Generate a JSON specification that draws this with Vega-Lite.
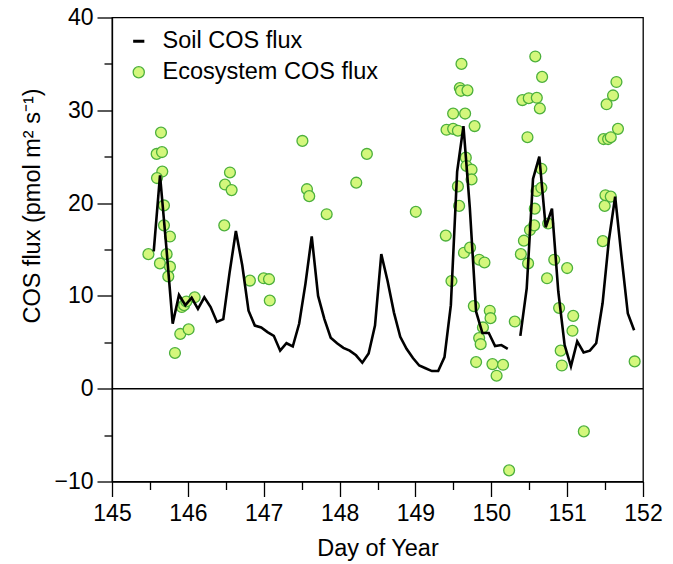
{
  "$schema": "https://vega.github.io/schema/vega-lite/v6.json",
  "width": 531,
  "height": 464,
  "autosize": "none",
  "padding": {"left": 112, "top": 17.5, "right": 30, "bottom": 82.5},
  "background": "white",
  "config": {
    "view": {"stroke": "black", "strokeWidth": 1.3},
    "font": "Liberation Sans",
    "axis": {
      "grid": false,
      "domainColor": "black",
      "domainWidth": 1.3,
      "tickColor": "black",
      "tickWidth": 1.3,
      "labelColor": "black",
      "labelFont": "Liberation Sans",
      "labelFontSize": 23,
      "titleFont": "Liberation Sans",
      "titleFontSize": 23.5,
      "titleFontWeight": "normal",
      "titleColor": "black",
      "labelFlush": false,
      "labelOverlap": false
    },
    "legend": {
      "title": null,
      "orient": "none",
      "padding": 0,
      "labelFont": "Liberation Sans",
      "labelFontSize": 23.5,
      "labelColor": "black",
      "labelLimit": 0,
      "labelOffset": 12,
      "symbolSize": 125
    }
  },
  "datasets": {
    "soil": [
      {"day": 145.55, "flux": 14.8, "seg": 1, "series": "Soil COS flux"},
      {"day": 145.633, "flux": 23.0, "seg": 1, "series": "Soil COS flux"},
      {"day": 145.717, "flux": 15.2, "seg": 1, "series": "Soil COS flux"},
      {"day": 145.8, "flux": 7.0, "seg": 1, "series": "Soil COS flux"},
      {"day": 145.883, "flux": 10.1, "seg": 1, "series": "Soil COS flux"},
      {"day": 145.967, "flux": 9.0, "seg": 1, "series": "Soil COS flux"},
      {"day": 146.05, "flux": 9.8, "seg": 1, "series": "Soil COS flux"},
      {"day": 146.133, "flux": 8.6, "seg": 1, "series": "Soil COS flux"},
      {"day": 146.217, "flux": 9.85, "seg": 1, "series": "Soil COS flux"},
      {"day": 146.3, "flux": 8.8, "seg": 1, "series": "Soil COS flux"},
      {"day": 146.383, "flux": 7.2, "seg": 1, "series": "Soil COS flux"},
      {"day": 146.467, "flux": 7.5, "seg": 1, "series": "Soil COS flux"},
      {"day": 146.55, "flux": 12.5, "seg": 1, "series": "Soil COS flux"},
      {"day": 146.633, "flux": 17.0, "seg": 1, "series": "Soil COS flux"},
      {"day": 146.717, "flux": 13.3, "seg": 1, "series": "Soil COS flux"},
      {"day": 146.8, "flux": 8.4, "seg": 1, "series": "Soil COS flux"},
      {"day": 146.883, "flux": 6.8, "seg": 1, "series": "Soil COS flux"},
      {"day": 146.967, "flux": 6.6, "seg": 1, "series": "Soil COS flux"},
      {"day": 147.05, "flux": 6.1, "seg": 1, "series": "Soil COS flux"},
      {"day": 147.133, "flux": 5.7, "seg": 1, "series": "Soil COS flux"},
      {"day": 147.217, "flux": 4.1, "seg": 1, "series": "Soil COS flux"},
      {"day": 147.3, "flux": 4.9, "seg": 1, "series": "Soil COS flux"},
      {"day": 147.383, "flux": 4.55, "seg": 1, "series": "Soil COS flux"},
      {"day": 147.467, "flux": 7.0, "seg": 1, "series": "Soil COS flux"},
      {"day": 147.55, "flux": 11.3, "seg": 1, "series": "Soil COS flux"},
      {"day": 147.633, "flux": 16.4, "seg": 1, "series": "Soil COS flux"},
      {"day": 147.717, "flux": 10.0, "seg": 1, "series": "Soil COS flux"},
      {"day": 147.8, "flux": 7.5, "seg": 1, "series": "Soil COS flux"},
      {"day": 147.883, "flux": 5.5, "seg": 1, "series": "Soil COS flux"},
      {"day": 147.967, "flux": 4.9, "seg": 1, "series": "Soil COS flux"},
      {"day": 148.05, "flux": 4.4, "seg": 1, "series": "Soil COS flux"},
      {"day": 148.133, "flux": 4.1, "seg": 1, "series": "Soil COS flux"},
      {"day": 148.217, "flux": 3.6, "seg": 1, "series": "Soil COS flux"},
      {"day": 148.3, "flux": 2.8, "seg": 1, "series": "Soil COS flux"},
      {"day": 148.383, "flux": 3.8, "seg": 1, "series": "Soil COS flux"},
      {"day": 148.467, "flux": 6.8, "seg": 1, "series": "Soil COS flux"},
      {"day": 148.55, "flux": 14.5, "seg": 1, "series": "Soil COS flux"},
      {"day": 148.633, "flux": 11.6, "seg": 1, "series": "Soil COS flux"},
      {"day": 148.717, "flux": 8.2, "seg": 1, "series": "Soil COS flux"},
      {"day": 148.8, "flux": 5.6, "seg": 1, "series": "Soil COS flux"},
      {"day": 148.883, "flux": 4.3, "seg": 1, "series": "Soil COS flux"},
      {"day": 148.967, "flux": 3.3, "seg": 1, "series": "Soil COS flux"},
      {"day": 149.05, "flux": 2.5, "seg": 1, "series": "Soil COS flux"},
      {"day": 149.133, "flux": 2.2, "seg": 1, "series": "Soil COS flux"},
      {"day": 149.217, "flux": 1.9, "seg": 1, "series": "Soil COS flux"},
      {"day": 149.3, "flux": 1.9, "seg": 1, "series": "Soil COS flux"},
      {"day": 149.383, "flux": 3.4, "seg": 1, "series": "Soil COS flux"},
      {"day": 149.467, "flux": 9.0, "seg": 1, "series": "Soil COS flux"},
      {"day": 149.55, "flux": 23.4, "seg": 1, "series": "Soil COS flux"},
      {"day": 149.633, "flux": 28.3, "seg": 1, "series": "Soil COS flux"},
      {"day": 149.717, "flux": 19.5, "seg": 1, "series": "Soil COS flux"},
      {"day": 149.8, "flux": 8.3, "seg": 1, "series": "Soil COS flux"},
      {"day": 149.883, "flux": 6.0, "seg": 1, "series": "Soil COS flux"},
      {"day": 149.967, "flux": 6.0, "seg": 1, "series": "Soil COS flux"},
      {"day": 150.05, "flux": 4.6, "seg": 1, "series": "Soil COS flux"},
      {"day": 150.133, "flux": 4.7, "seg": 1, "series": "Soil COS flux"},
      {"day": 150.217, "flux": 4.3, "seg": 1, "series": "Soil COS flux"},
      {"day": 150.383, "flux": 5.7, "seg": 2, "series": "Soil COS flux"},
      {"day": 150.467, "flux": 10.8, "seg": 2, "series": "Soil COS flux"},
      {"day": 150.55, "flux": 22.6, "seg": 2, "series": "Soil COS flux"},
      {"day": 150.633, "flux": 25.0, "seg": 2, "series": "Soil COS flux"},
      {"day": 150.717, "flux": 17.4, "seg": 2, "series": "Soil COS flux"},
      {"day": 150.8, "flux": 19.4, "seg": 2, "series": "Soil COS flux"},
      {"day": 150.883, "flux": 10.5, "seg": 2, "series": "Soil COS flux"},
      {"day": 150.967, "flux": 4.7, "seg": 2, "series": "Soil COS flux"},
      {"day": 151.05, "flux": 2.4, "seg": 2, "series": "Soil COS flux"},
      {"day": 151.133, "flux": 5.1, "seg": 2, "series": "Soil COS flux"},
      {"day": 151.217, "flux": 3.9, "seg": 2, "series": "Soil COS flux"},
      {"day": 151.3, "flux": 4.1, "seg": 2, "series": "Soil COS flux"},
      {"day": 151.383, "flux": 4.9, "seg": 2, "series": "Soil COS flux"},
      {"day": 151.467, "flux": 9.2, "seg": 2, "series": "Soil COS flux"},
      {"day": 151.55, "flux": 16.0, "seg": 2, "series": "Soil COS flux"},
      {"day": 151.633, "flux": 20.7, "seg": 2, "series": "Soil COS flux"},
      {"day": 151.717, "flux": 14.2, "seg": 2, "series": "Soil COS flux"},
      {"day": 151.8, "flux": 8.1, "seg": 2, "series": "Soil COS flux"},
      {"day": 151.883, "flux": 6.3, "seg": 2, "series": "Soil COS flux"}
    ],
    "eco": [
      {"day": 145.48, "flux": 14.5, "series": "Ecosystem COS flux"},
      {"day": 145.589, "flux": 25.3, "series": "Ecosystem COS flux"},
      {"day": 145.646, "flux": 27.6, "series": "Ecosystem COS flux"},
      {"day": 145.659, "flux": 25.5, "series": "Ecosystem COS flux"},
      {"day": 145.663, "flux": 23.4, "series": "Ecosystem COS flux"},
      {"day": 145.593, "flux": 22.7, "series": "Ecosystem COS flux"},
      {"day": 145.685, "flux": 19.75, "series": "Ecosystem COS flux"},
      {"day": 145.685, "flux": 17.6, "series": "Ecosystem COS flux"},
      {"day": 145.764, "flux": 16.4, "series": "Ecosystem COS flux"},
      {"day": 145.72, "flux": 14.5, "series": "Ecosystem COS flux"},
      {"day": 145.632, "flux": 13.5, "series": "Ecosystem COS flux"},
      {"day": 145.764, "flux": 13.15, "series": "Ecosystem COS flux"},
      {"day": 145.742, "flux": 12.1, "series": "Ecosystem COS flux"},
      {"day": 145.83, "flux": 3.85, "series": "Ecosystem COS flux"},
      {"day": 145.9, "flux": 5.9, "series": "Ecosystem COS flux"},
      {"day": 146.01, "flux": 6.4, "series": "Ecosystem COS flux"},
      {"day": 145.92, "flux": 8.8, "series": "Ecosystem COS flux"},
      {"day": 145.95, "flux": 9.0, "series": "Ecosystem COS flux"},
      {"day": 145.98, "flux": 9.4, "series": "Ecosystem COS flux"},
      {"day": 146.09, "flux": 9.85, "series": "Ecosystem COS flux"},
      {"day": 146.49, "flux": 22.0, "series": "Ecosystem COS flux"},
      {"day": 146.555, "flux": 23.3, "series": "Ecosystem COS flux"},
      {"day": 146.577, "flux": 21.4, "series": "Ecosystem COS flux"},
      {"day": 146.48, "flux": 17.6, "series": "Ecosystem COS flux"},
      {"day": 146.818, "flux": 11.65, "series": "Ecosystem COS flux"},
      {"day": 147.0, "flux": 11.9, "series": "Ecosystem COS flux"},
      {"day": 147.07, "flux": 11.8, "series": "Ecosystem COS flux"},
      {"day": 147.08, "flux": 9.5, "series": "Ecosystem COS flux"},
      {"day": 147.51, "flux": 26.7, "series": "Ecosystem COS flux"},
      {"day": 147.57, "flux": 21.5, "series": "Ecosystem COS flux"},
      {"day": 147.6, "flux": 20.75, "series": "Ecosystem COS flux"},
      {"day": 147.83, "flux": 18.8, "series": "Ecosystem COS flux"},
      {"day": 148.22, "flux": 22.2, "series": "Ecosystem COS flux"},
      {"day": 148.36, "flux": 25.3, "series": "Ecosystem COS flux"},
      {"day": 149.005, "flux": 19.06, "series": "Ecosystem COS flux"},
      {"day": 149.4, "flux": 16.5, "series": "Ecosystem COS flux"},
      {"day": 149.41, "flux": 27.9, "series": "Ecosystem COS flux"},
      {"day": 149.475, "flux": 11.6, "series": "Ecosystem COS flux"},
      {"day": 149.497, "flux": 29.65, "series": "Ecosystem COS flux"},
      {"day": 149.497, "flux": 28.0, "series": "Ecosystem COS flux"},
      {"day": 149.56, "flux": 27.8, "series": "Ecosystem COS flux"},
      {"day": 149.56, "flux": 21.8, "series": "Ecosystem COS flux"},
      {"day": 149.576, "flux": 19.7, "series": "Ecosystem COS flux"},
      {"day": 149.585, "flux": 32.4, "series": "Ecosystem COS flux"},
      {"day": 149.6, "flux": 32.1, "series": "Ecosystem COS flux"},
      {"day": 149.607, "flux": 35.0, "series": "Ecosystem COS flux"},
      {"day": 149.64, "flux": 14.65, "series": "Ecosystem COS flux"},
      {"day": 149.655, "flux": 29.65, "series": "Ecosystem COS flux"},
      {"day": 149.664, "flux": 24.9, "series": "Ecosystem COS flux"},
      {"day": 149.673, "flux": 24.0, "series": "Ecosystem COS flux"},
      {"day": 149.686, "flux": 32.15, "series": "Ecosystem COS flux"},
      {"day": 149.72, "flux": 15.2, "series": "Ecosystem COS flux"},
      {"day": 149.74, "flux": 23.6, "series": "Ecosystem COS flux"},
      {"day": 149.74, "flux": 22.55, "series": "Ecosystem COS flux"},
      {"day": 149.77, "flux": 8.9, "series": "Ecosystem COS flux"},
      {"day": 149.78, "flux": 28.3, "series": "Ecosystem COS flux"},
      {"day": 149.8, "flux": 2.87, "series": "Ecosystem COS flux"},
      {"day": 149.84, "flux": 13.9, "series": "Ecosystem COS flux"},
      {"day": 149.84, "flux": 5.45, "series": "Ecosystem COS flux"},
      {"day": 149.86, "flux": 4.8, "series": "Ecosystem COS flux"},
      {"day": 149.89, "flux": 6.6, "series": "Ecosystem COS flux"},
      {"day": 149.91, "flux": 13.6, "series": "Ecosystem COS flux"},
      {"day": 149.98, "flux": 8.4, "series": "Ecosystem COS flux"},
      {"day": 149.99, "flux": 7.6, "series": "Ecosystem COS flux"},
      {"day": 150.015, "flux": 2.65, "series": "Ecosystem COS flux"},
      {"day": 150.07, "flux": 1.4, "series": "Ecosystem COS flux"},
      {"day": 150.155, "flux": 2.58, "series": "Ecosystem COS flux"},
      {"day": 150.235, "flux": -8.8, "series": "Ecosystem COS flux"},
      {"day": 150.31, "flux": 7.24, "series": "Ecosystem COS flux"},
      {"day": 150.39, "flux": 14.5, "series": "Ecosystem COS flux"},
      {"day": 150.41, "flux": 31.1, "series": "Ecosystem COS flux"},
      {"day": 150.43, "flux": 15.95, "series": "Ecosystem COS flux"},
      {"day": 150.477, "flux": 27.1, "series": "Ecosystem COS flux"},
      {"day": 150.485, "flux": 13.5, "series": "Ecosystem COS flux"},
      {"day": 150.494, "flux": 31.3, "series": "Ecosystem COS flux"},
      {"day": 150.51, "flux": 17.1, "series": "Ecosystem COS flux"},
      {"day": 150.565, "flux": 17.6, "series": "Ecosystem COS flux"},
      {"day": 150.573, "flux": 19.4, "series": "Ecosystem COS flux"},
      {"day": 150.58, "flux": 35.8, "series": "Ecosystem COS flux"},
      {"day": 150.596, "flux": 21.3, "series": "Ecosystem COS flux"},
      {"day": 150.6, "flux": 31.35, "series": "Ecosystem COS flux"},
      {"day": 150.64, "flux": 30.2, "series": "Ecosystem COS flux"},
      {"day": 150.66, "flux": 23.7, "series": "Ecosystem COS flux"},
      {"day": 150.66, "flux": 21.65, "series": "Ecosystem COS flux"},
      {"day": 150.67, "flux": 33.6, "series": "Ecosystem COS flux"},
      {"day": 150.735, "flux": 11.9, "series": "Ecosystem COS flux"},
      {"day": 150.75, "flux": 17.8, "series": "Ecosystem COS flux"},
      {"day": 150.83, "flux": 13.9, "series": "Ecosystem COS flux"},
      {"day": 150.894, "flux": 8.7, "series": "Ecosystem COS flux"},
      {"day": 150.915, "flux": 4.1, "series": "Ecosystem COS flux"},
      {"day": 150.93, "flux": 2.5, "series": "Ecosystem COS flux"},
      {"day": 151.0, "flux": 13.0, "series": "Ecosystem COS flux"},
      {"day": 151.07, "flux": 6.24, "series": "Ecosystem COS flux"},
      {"day": 151.08, "flux": 7.85, "series": "Ecosystem COS flux"},
      {"day": 151.22, "flux": -4.6, "series": "Ecosystem COS flux"},
      {"day": 151.47, "flux": 15.9, "series": "Ecosystem COS flux"},
      {"day": 151.48, "flux": 26.9, "series": "Ecosystem COS flux"},
      {"day": 151.495, "flux": 19.7, "series": "Ecosystem COS flux"},
      {"day": 151.505, "flux": 20.85, "series": "Ecosystem COS flux"},
      {"day": 151.52, "flux": 30.65, "series": "Ecosystem COS flux"},
      {"day": 151.54, "flux": 26.9, "series": "Ecosystem COS flux"},
      {"day": 151.575, "flux": 27.1, "series": "Ecosystem COS flux"},
      {"day": 151.575, "flux": 20.7, "series": "Ecosystem COS flux"},
      {"day": 151.605, "flux": 31.6, "series": "Ecosystem COS flux"},
      {"day": 151.65, "flux": 33.05, "series": "Ecosystem COS flux"},
      {"day": 151.67, "flux": 28.0, "series": "Ecosystem COS flux"},
      {"day": 151.89, "flux": 2.94, "series": "Ecosystem COS flux"}
    ],
    "zero": [{"flux": 0}]
  },
  "encoding": {
    "x": {
      "field": "day",
      "type": "quantitative",
      "scale": {"domain": [145, 152], "nice": false, "zero": false},
      "axis": {
        "title": "Day of Year",
        "values": [145, 145.5, 146, 146.5, 147, 147.5, 148, 148.5, 149, 149.5, 150, 150.5, 151, 151.5, 152],
        "labelExpr": "datum.value % 1 ? '' : format(datum.value, 'd')",
        "tickSize": {"condition": {"test": "datum.value % 1 != 0", "value": 8}, "value": 15},
        "labelPadding": 6,
        "titleY": 74,
        "titleBaseline": "alphabetic"
      }
    },
    "y": {
      "field": "flux",
      "type": "quantitative",
      "scale": {"domain": [-10, 40], "nice": false, "zero": false},
      "axis": {
        "title": "COS flux (pmol m² s⁻¹)",
        "values": [-10, -5, 0, 5, 10, 15, 20, 25, 30, 35, 40],
        "labelExpr": "datum.value % 10 ? '' : datum.label",
        "tickSize": {"condition": {"test": "datum.value % 10 != 0", "value": 8}, "value": 15},
        "labelPadding": 4,
        "titleAngle": 270,
        "titleX": -80,
        "titleY": 188,
        "titleAlign": "center",
        "titleBaseline": "middle"
      }
    }
  },
  "layer": [
    {
      "data": {"name": "eco"},
      "mark": {"type": "point", "filled": true, "shape": "circle", "size": 118, "stroke": "#4cb03c", "strokeWidth": 1.3, "opacity": 1},
      "encoding": {
        "fill": {
          "field": "series",
          "type": "nominal",
          "scale": {"domain": ["Ecosystem COS flux"], "range": ["#d4f77c"]},
          "legend": {
            "legendX": 15,
            "legendY": 43,
            "symbolType": "circle",
            "symbolStrokeColor": "#4cb03c",
            "symbolStrokeWidth": 1.3,
            "symbolOpacity": 1
          }
        }
      }
    },
    {
      "data": {"name": "soil"},
      "mark": {"type": "line", "strokeWidth": 2.6, "strokeJoin": "miter"},
      "encoding": {
        "detail": {"field": "seg", "type": "nominal"},
        "stroke": {
          "field": "series",
          "type": "nominal",
          "scale": {"domain": ["Soil COS flux"], "range": ["black"]},
          "legend": {
            "legendX": 15,
            "legendY": 12,
            "symbolType": "stroke",
            "symbolStrokeWidth": 3,
            "symbolSize": 125
          }
        }
      }
    },
    {
      "data": {"name": "zero"},
      "mark": {"type": "rule", "color": "black", "strokeWidth": 1.4},
      "encoding": {
        "y": {"field": "flux", "type": "quantitative"},
        "x": null
      }
    }
  ]
}
